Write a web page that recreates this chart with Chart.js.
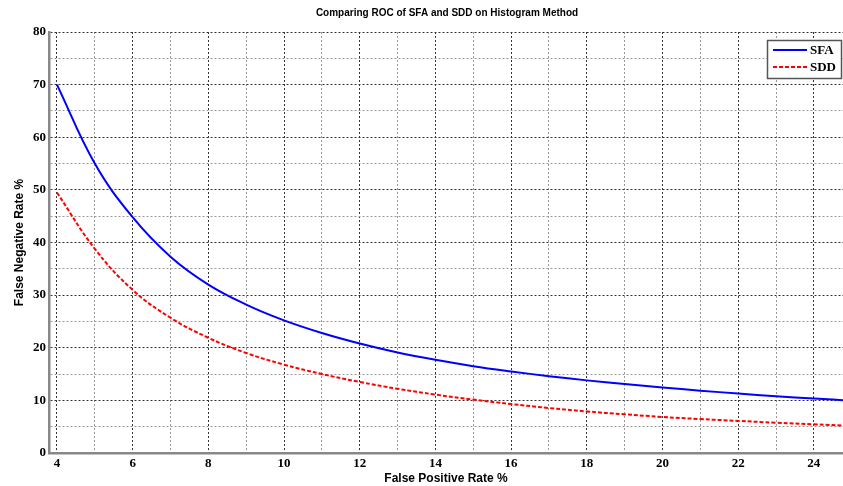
<!DOCTYPE html>
<html>
<head>
<meta charset="utf-8">
<script src="https://cdn.jsdelivr.net/npm/chart.js@4"></script>
<style>
  html, body { margin: 0; padding: 0; background: #fff; }
  #wrap { width: 843px; height: 486px; position: relative; }
</style>
</head>
<body>
<div id="wrap"><canvas id="myChart"></canvas></div>
<script>
// values
const fpRate = [4, 5, 6, 7, 8, 9, 10, 11, 12, 13, 14, 15, 16, 17, 18, 19, 20, 21, 22, 23, 24, 25]
const sfaValues = [70, 55, 44.8, 37.3, 32.0, 28.2, 25.2, 22.8, 20.8, 19.1, 17.7, 16.5, 15.5, 14.6, 13.8, 13.1, 12.45, 11.85, 11.3, 10.8, 10.35, 9.95]
const sddValues = [49.5, 38.8, 31.0, 25.7, 21.9, 19.0, 16.8, 15.0, 13.5, 12.2, 11.1, 10.15, 9.3, 8.55, 7.9, 7.35, 6.85, 6.45, 6.1, 5.75, 5.45, 5.15]
const xTicks = [4, 5, 6, 7, 8, 9, 10, 11, 12, 13, 14, 15, 16, 17, 18, 19, 20, 21, 22, 23, 24]
const yTicks = [0, 5, 10, 15, 20, 25, 30, 35, 40, 45, 50, 55, 60, 65, 70, 75, 80]
const titleText = 'Comparing ROC of SFA and SDD on Histogram Method'

const tickFont = { family: '"Liberation Serif", "DejaVu Serif", serif', size: 13, weight: 'bold' }
const axisFont = { family: '"Liberation Sans", Arial, sans-serif', size: 12, weight: 'bold' }

function toPoints(ys) {
  return fpRate.map((x, i) => ({ x: x, y: ys[i] }))
}

// dotted grid: labelled lines darker than the in-between ones
function gridColor(major) {
  return function (ctx) {
    if (!ctx.tick) return '#555'
    return major(ctx.tick.value) ? '#333' : '#999'
  }
}

// title + legend box drawn on the canvas
const overlay = {
  id: 'overlay',
  afterDraw(chart) {
    const c = chart.ctx
    c.save()
    c.fillStyle = '#000'
    c.font = 'bold 10px "Liberation Sans", Arial, sans-serif'
    c.textAlign = 'center'
    c.textBaseline = 'middle'
    c.fillText(titleText, 447, 13)

    // legend
    c.fillStyle = '#fff'
    c.fillRect(767, 40, 75, 38)
    c.strokeStyle = '#555'
    c.lineWidth = 1.5
    c.strokeRect(767.5, 40.5, 74, 38)
    const rows = [50, 67]
    chart.data.datasets.forEach((ds, i) => {
      c.strokeStyle = ds.borderColor
      c.lineWidth = 2
      c.setLineDash(ds.borderDash || [])
      c.beginPath()
      c.moveTo(773, rows[i])
      c.lineTo(807, rows[i])
      c.stroke()
      c.setLineDash([])
      c.fillStyle = '#000'
      c.font = 'bold 13px "Liberation Serif", "DejaVu Serif", serif'
      c.textAlign = 'left'
      c.fillText(ds.label, 810, rows[i] + 1)
    })
    c.restore()
  }
}

const ctx = document.getElementById('myChart')
new Chart(ctx, {
  type: 'line',
  data: {
    datasets: [{
      label: 'SFA',
      data: toPoints(sfaValues),
      borderColor: '#0000ff',
      borderWidth: 2,
      pointRadius: 0,
      tension: 0.4,
      fill: false
    }, {
      label: 'SDD',
      data: toPoints(sddValues),
      borderColor: '#ff0000',
      borderWidth: 2,
      borderDash: [4, 2],
      pointRadius: 0,
      tension: 0.4,
      fill: false
    }]
  },
  options: {
    responsive: true,
    maintainAspectRatio: false,
    animation: false,
    layout: { padding: { top: 32, right: 0, left: 0, bottom: 0 } },
    plugins: {
      legend: { display: false },
      title: { display: false },
      tooltip: { enabled: false }
    },
    scales: {
      x: {
        type: 'linear',
        min: 3.79,
        max: 24.77,
        afterBuildTicks: axis => { axis.ticks = xTicks.map(v => ({ value: v })) },
        afterFit: axis => { axis.height = 33 },
        ticks: {
          autoSkip: false,
          maxRotation: 0,
          padding: 3,
          color: '#000',
          font: tickFont,
          callback: v => (v % 2 === 0 ? v : '')
        },
        grid: {
          color: gridColor(v => v % 2 === 0),
          lineWidth: 1,
          drawTicks: false
        },
        border: { display: true, color: '#888', width: 2.5, dash: [2, 2] },
        title: { display: true, text: 'False Positive Rate %', color: '#000', font: axisFont, padding: 0 }
      },
      y: {
        min: 0,
        max: 80,
        afterBuildTicks: axis => { axis.ticks = yTicks.map(v => ({ value: v })) },
        afterFit: axis => { axis.width = 49 },
        ticks: {
          autoSkip: false,
          padding: 3,
          color: '#000',
          font: tickFont,
          callback: v => (v % 10 === 0 ? v : '')
        },
        grid: {
          color: gridColor(v => v % 10 === 0),
          lineWidth: 1,
          drawTicks: false
        },
        border: { display: true, color: '#888', width: 2.5, dash: [2, 2] },
        title: { display: true, text: 'False Negative Rate %', color: '#000', font: axisFont, padding: { top: 12, bottom: 0 } }
      }
    }
  },
  plugins: [overlay]
})
</script>
</body>
</html>
